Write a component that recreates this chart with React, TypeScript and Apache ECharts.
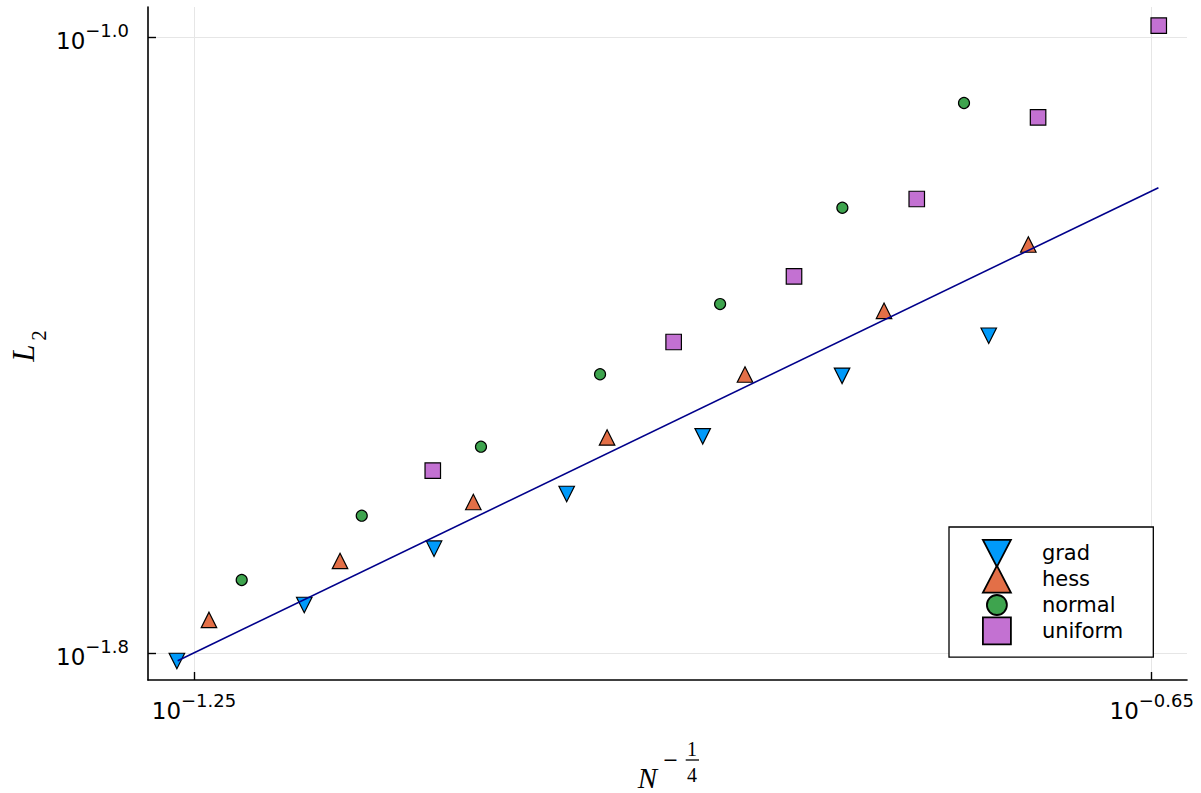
import React, { useEffect, useRef } from 'react';
import * as echarts from 'echarts';

// log10 of N^{-1/4} (x) and log10 of L2 error (y)
const gradX = [-1.2607, -1.1809, -1.0996, -1.0165, -0.9313, -0.844, -0.7521];
const gradY = [-1.8104, -1.7377, -1.6645, -1.5935, -1.5186, -1.44, -1.388];
const hessX = [-1.2406, -1.1585, -1.075, -0.9912, -0.9048, -0.8177, -0.7273];
const hessY = [-1.7571, -1.6805, -1.6039, -1.5201, -1.4383, -1.3556, -1.2695];
const normalX = [-1.2201, -1.1449, -1.0702, -0.9956, -0.9204, -0.8438, -0.7676];
const normalY = [-1.7052, -1.6217, -1.5321, -1.438, -1.3468, -1.2217, -1.0857];
const uniformX = [-1.1004, -0.9495, -0.8741, -0.7972, -0.7212, -0.6456];
const uniformY = [-1.5632, -1.3961, -1.3108, -1.2104, -1.1043, -0.9853];
const fitX = [-1.2602, -0.6458];
const fitY = [-1.81, -1.1957];

const xTicks = [-1.25, -0.65];
const yTicks = [-1.8, -1.0];
const X_MIN = -1.2788;
const X_MAX = -0.6279;
const Y_MIN = -1.8351;
const Y_MAX = -0.961;

const seriesNames = ['grad', 'hess', 'normal', 'uniform'];
const seriesColors = ['#009AFA', '#E36F47', '#3EA44E', '#C371D2'];

const pairs = (xs: number[], ys: number[]) => xs.map((x, i) => [x, ys[i]]);

const rich = {
  b: { fontSize: 23, fontFamily: 'DejaVu Sans', color: '#000', padding: [8, 0, 0, 0], verticalAlign: 'bottom' },
  s: { fontSize: 18, fontFamily: 'DejaVu Sans', color: '#000', verticalAlign: 'top' },
};

const fmt = (digits: number) => (v: number) => {
  const t = Math.abs(v).toFixed(digits);
  return `{b|10}{s|${v < 0 ? '\u2212' : ''}${t}}`;
};

const circleIcon = 'path://M0,0M28,27M4,13.5A10,10,0,1,1,24,13.5A10,10,0,1,1,4,13.5Z';
const downTriIcon = 'path://M0,0L28,0L14,27Z';
const upTriIcon = 'path://M14,0L28,27L0,27Z';
const squareIcon = 'path://M0,0L28,0L28,27L0,27Z';

export default function App() {
  const ref = useRef<HTMLDivElement>(null);
  useEffect(() => {
    if (!ref.current) return;
    const chart = echarts.init(ref.current, null, { renderer: 'svg' });
    const axisCommon = (ticks: number[], digits: number, margin: number) => ({
      type: 'value',
      axisLine: { show: true, onZero: false, lineStyle: { color: '#000', width: 1.6 } },
      axisTick: { show: true, inside: true, length: 8, customValues: ticks, lineStyle: { color: '#000', width: 1.4 } },
      axisLabel: { show: true, customValues: ticks, formatter: fmt(digits), rich, margin },
      splitLine: { show: true, lineStyle: { color: '#e6e6e6', width: 1 } },
      minorTick: { show: false },
    });
    const mk = (sym: string, size: number, rot: number) => ({ symbol: sym, symbolSize: size, symbolRotate: rot });
    const markers = [mk('triangle', 15.5, 180), mk('triangle', 15.5, 0), mk('circle', 11, 0), mk('rect', 15.5, 0)];
    const datas = [pairs(gradX, gradY), pairs(hessX, hessY), pairs(normalX, normalY), pairs(uniformX, uniformY)];
    const option: any = {
      animation: false,
      backgroundColor: '#fff',
      grid: { left: 148, top: 7, width: 1039, height: 673, containLabel: false, outerBoundsMode: 'none' },
      xAxis: { ...axisCommon(xTicks, 2, 11), min: X_MIN, max: X_MAX },
      yAxis: { ...axisCommon(yTicks, 1, 19), min: Y_MIN, max: Y_MAX },
      legend: {
        show: true,
        orient: 'vertical',
        left: 949,
        top: 527,
        padding: [12, 30, 12, 33],
        itemWidth: 28,
        itemHeight: 27,
        itemGap: -3,
        symbolRotate: 0,
        backgroundColor: '#fff',
        borderColor: '#000',
        borderWidth: 1.3,
        borderRadius: 0,
        selectedMode: false,
        itemStyle: { borderWidth: 1.8 },
        textStyle: { fontSize: 21, lineHeight: 24, fontFamily: 'DejaVu Sans', color: '#000', padding: [0, 0, 0, 26] },
        data: [
          { name: 'grad', icon: downTriIcon },
          { name: 'hess', icon: upTriIcon },
          { name: 'normal', icon: circleIcon },
          { name: 'uniform', icon: squareIcon },
        ],
      },
      series: [
        ...seriesNames.map((name, i) => ({
          name,
          type: 'scatter',
          data: datas[i],
          ...markers[i],
          itemStyle: { color: seriesColors[i], borderColor: '#000', borderWidth: 1.2, opacity: 1 },
          emphasis: { disabled: true },
        })),
        {
          name: 'fit',
          type: 'line',
          data: pairs(fitX, fitY),
          symbol: 'none',
          lineStyle: { color: '#00008B', width: 1.6 },
          emphasis: { disabled: true },
        },
      ],
      graphic: [
        { type: 'text', x: 23, y: 353, rotation: Math.PI / 2, style: { text: 'L', font: 'italic 31px "Liberation Serif"', fill: '#000', align: 'center', verticalAlign: 'middle' } },
        { type: 'text', x: 39, y: 335.5, rotation: Math.PI / 2, style: { text: '2', font: '21px "Liberation Serif"', fill: '#000', align: 'center', verticalAlign: 'middle' } },
        { type: 'text', x: 647.5, y: 778, style: { text: 'N', font: 'italic 29px "Liberation Serif"', fill: '#000', align: 'center', verticalAlign: 'middle' } },
        { type: 'text', x: 670.5, y: 759, style: { text: '\u2212', font: '19px "DejaVu Sans"', fill: '#000', align: 'center', verticalAlign: 'middle' } },
        { type: 'text', x: 692, y: 748.5, style: { text: '1', font: '20px "Liberation Serif"', fill: '#000', align: 'center', verticalAlign: 'middle' } },
        { type: 'line', shape: { x1: 685.7, y1: 760, x2: 699, y2: 760 }, style: { stroke: '#000', lineWidth: 1.3 } },
        { type: 'text', x: 692, y: 775, style: { text: '4', font: '20px "Liberation Serif"', fill: '#000', align: 'center', verticalAlign: 'middle' } },
      ],
    };
    chart.setOption(option);
    return () => chart.dispose();
  }, []);
  return <div ref={ref} style={{ position: 'absolute', left: 0, top: 0, width: 1201, height: 793 }} />;
}
